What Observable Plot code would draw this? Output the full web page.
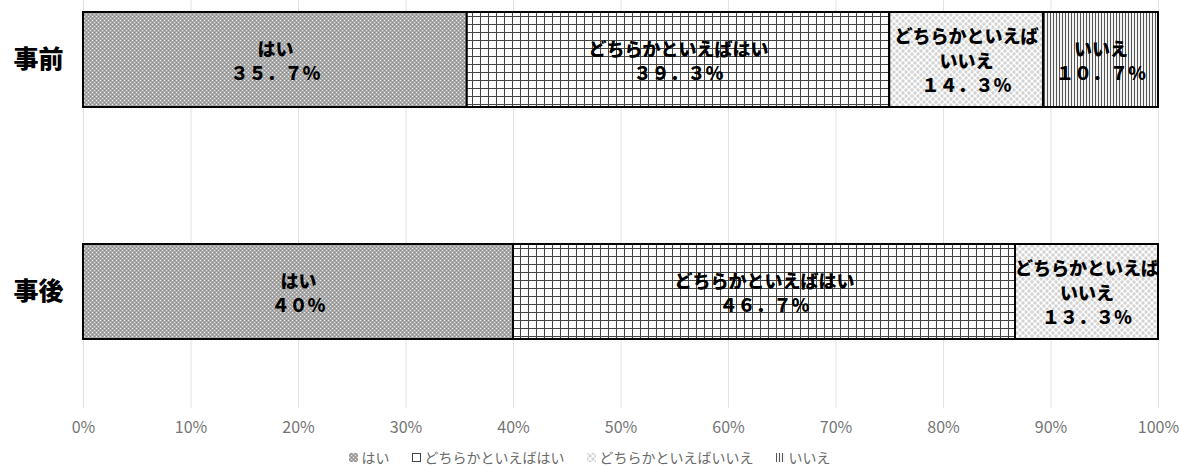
<!DOCTYPE html>
<html><head><meta charset="utf-8">
<script src="https://cdn.jsdelivr.net/npm/d3@7"></script>
<script src="https://cdn.jsdelivr.net/npm/@observablehq/plot@0.6"></script>
<style>
body{margin:0;background:#fff;font-family:"Noto Sans CJK JP",sans-serif;}
#legend{display:flex;justify-content:center;gap:22px;font-size:14px;color:#6a6a6a;height:22px;margin-top:6px;align-items:center}
#legend span.item{display:flex;align-items:center;gap:4px}
</style></head><body><div id="chart"></div><div id="legend"></div><script>
const timings = ["事前", "事後"];
const categories = ["はい", "どちらかといえばはい", "どちらかといえばいいえ", "いいえ"];
const categoryLines = ["はい", "どちらかといえばはい", "どちらかといえば\nいいえ", "いいえ"];
const beforeValues = [35.7, 39.3, 14.3, 10.7];
const afterValues = [40, 46.7, 13.3, 0];
const beforeLabels = ["３５．７％", "３９．３％", "１４．３％", "１０．７％"];
const afterLabels = ["４０％", "４６．７％", "１３．３％", ""];
const xTicks = [0, 10, 20, 30, 40, 50, 60, 70, 80, 90, 100];
const patternIds = ["pat-hai", "pat-dochira-hai", "pat-dochira-iie", "pat-iie"];

const rows = [];
categories.forEach((c, i) => {
  rows.push({timing: timings[0], category: c, value: beforeValues[i], label: categoryLines[i] + "\n" + beforeLabels[i]});
  rows.push({timing: timings[1], category: c, value: afterValues[i], label: categoryLines[i] + "\n" + afterLabels[i]});
});
const shown = rows.filter(d => d.value > 0);

const chart = Plot.plot({
  width: 1179,
  height: 440,
  marginLeft: 83,
  marginRight: 21,
  marginTop: 0,
  marginBottom: 32,
  style: {fontFamily: "'Noto Sans CJK JP', sans-serif", background: "#fff", fontSize: "16px"},
  x: {domain: [0, 100]},
  y: {domain: timings, paddingInner: 0.592, paddingOuter: 0.172, align: 0.144},
  color: {type: "ordinal", domain: categories, range: patternIds.map(id => `url(#${id})`)},
  marks: [
    Plot.gridX({ticks: xTicks, stroke: "#e2e2e2", strokeOpacity: 1, strokeWidth: 1}),
    Plot.axisX({ticks: xTicks, tickFormat: d => d + "%", tickSize: 0, tickPadding: 13, fontSize: 16, color: "#757575", label: null}),
    Plot.axisY({tickSize: 0, tickPadding: 20, fontSize: 25, fontWeight: 900, color: "#000", label: null}),
    Plot.barX(shown, Plot.stackX({x: "value", y: "timing", fill: "category", order: categories, stroke: "#000", strokeWidth: 2, inset: 0})),
    Plot.text(shown, Plot.stackX({x: "value", y: "timing", z: "category", order: categories, text: "label", fontSize: 18, fontWeight: 900, fill: "#000", lineHeight: 1.35}))
  ]
});

const defs = `
<pattern id="pat-hai" patternUnits="userSpaceOnUse" width="4" height="4">
  <rect width="4" height="4" fill="#a9a9a9"/>
  <rect x="0" y="0" width="1" height="1" fill="#f0f0f0"/>
  <rect x="2" y="2" width="1" height="1" fill="#dcdcdc"/>
  <rect x="2" y="0" width="1" height="1" fill="#8a8a8a"/>
  <rect x="0" y="2" width="1" height="1" fill="#929292"/>
</pattern>
<pattern id="pat-dochira-hai" patternUnits="userSpaceOnUse" width="8" height="8">
  <rect width="8" height="8" fill="#fff"/>
  <path d="M0 0.5H8M0.5 0V8" stroke="#444" stroke-width="1"/>
</pattern>
<pattern id="pat-dochira-iie" patternUnits="userSpaceOnUse" width="6" height="6">
  <rect width="6" height="6" fill="#fff"/>
  <circle cx="0" cy="0" r="1.7" fill="#d2d2d2"/>
  <circle cx="6" cy="0" r="1.7" fill="#d2d2d2"/>
  <circle cx="0" cy="6" r="1.7" fill="#d2d2d2"/>
  <circle cx="6" cy="6" r="1.7" fill="#d2d2d2"/>
  <circle cx="3" cy="3" r="1.7" fill="#d2d2d2"/>
</pattern>
<pattern id="pat-iie" patternUnits="userSpaceOnUse" width="3" height="3">
  <rect width="3" height="3" fill="#f4f4f4"/>
  <rect x="0" y="0" width="1" height="3" fill="#555"/>
</pattern>`;
const defsEl = document.createElementNS("http://www.w3.org/2000/svg", "defs");
defsEl.innerHTML = defs;
chart.insertBefore(defsEl, chart.firstChild);
document.getElementById("chart").appendChild(chart);

const legend = document.getElementById("legend");
categories.forEach((c, i) => {
  const item = document.createElement("span");
  item.className = "item";
  item.innerHTML = `<svg width="9" height="9"><rect width="9" height="9" fill="url(#${patternIds[i]})"/></svg><span>${c}</span>`;
  legend.appendChild(item);
});
</script></body></html>
